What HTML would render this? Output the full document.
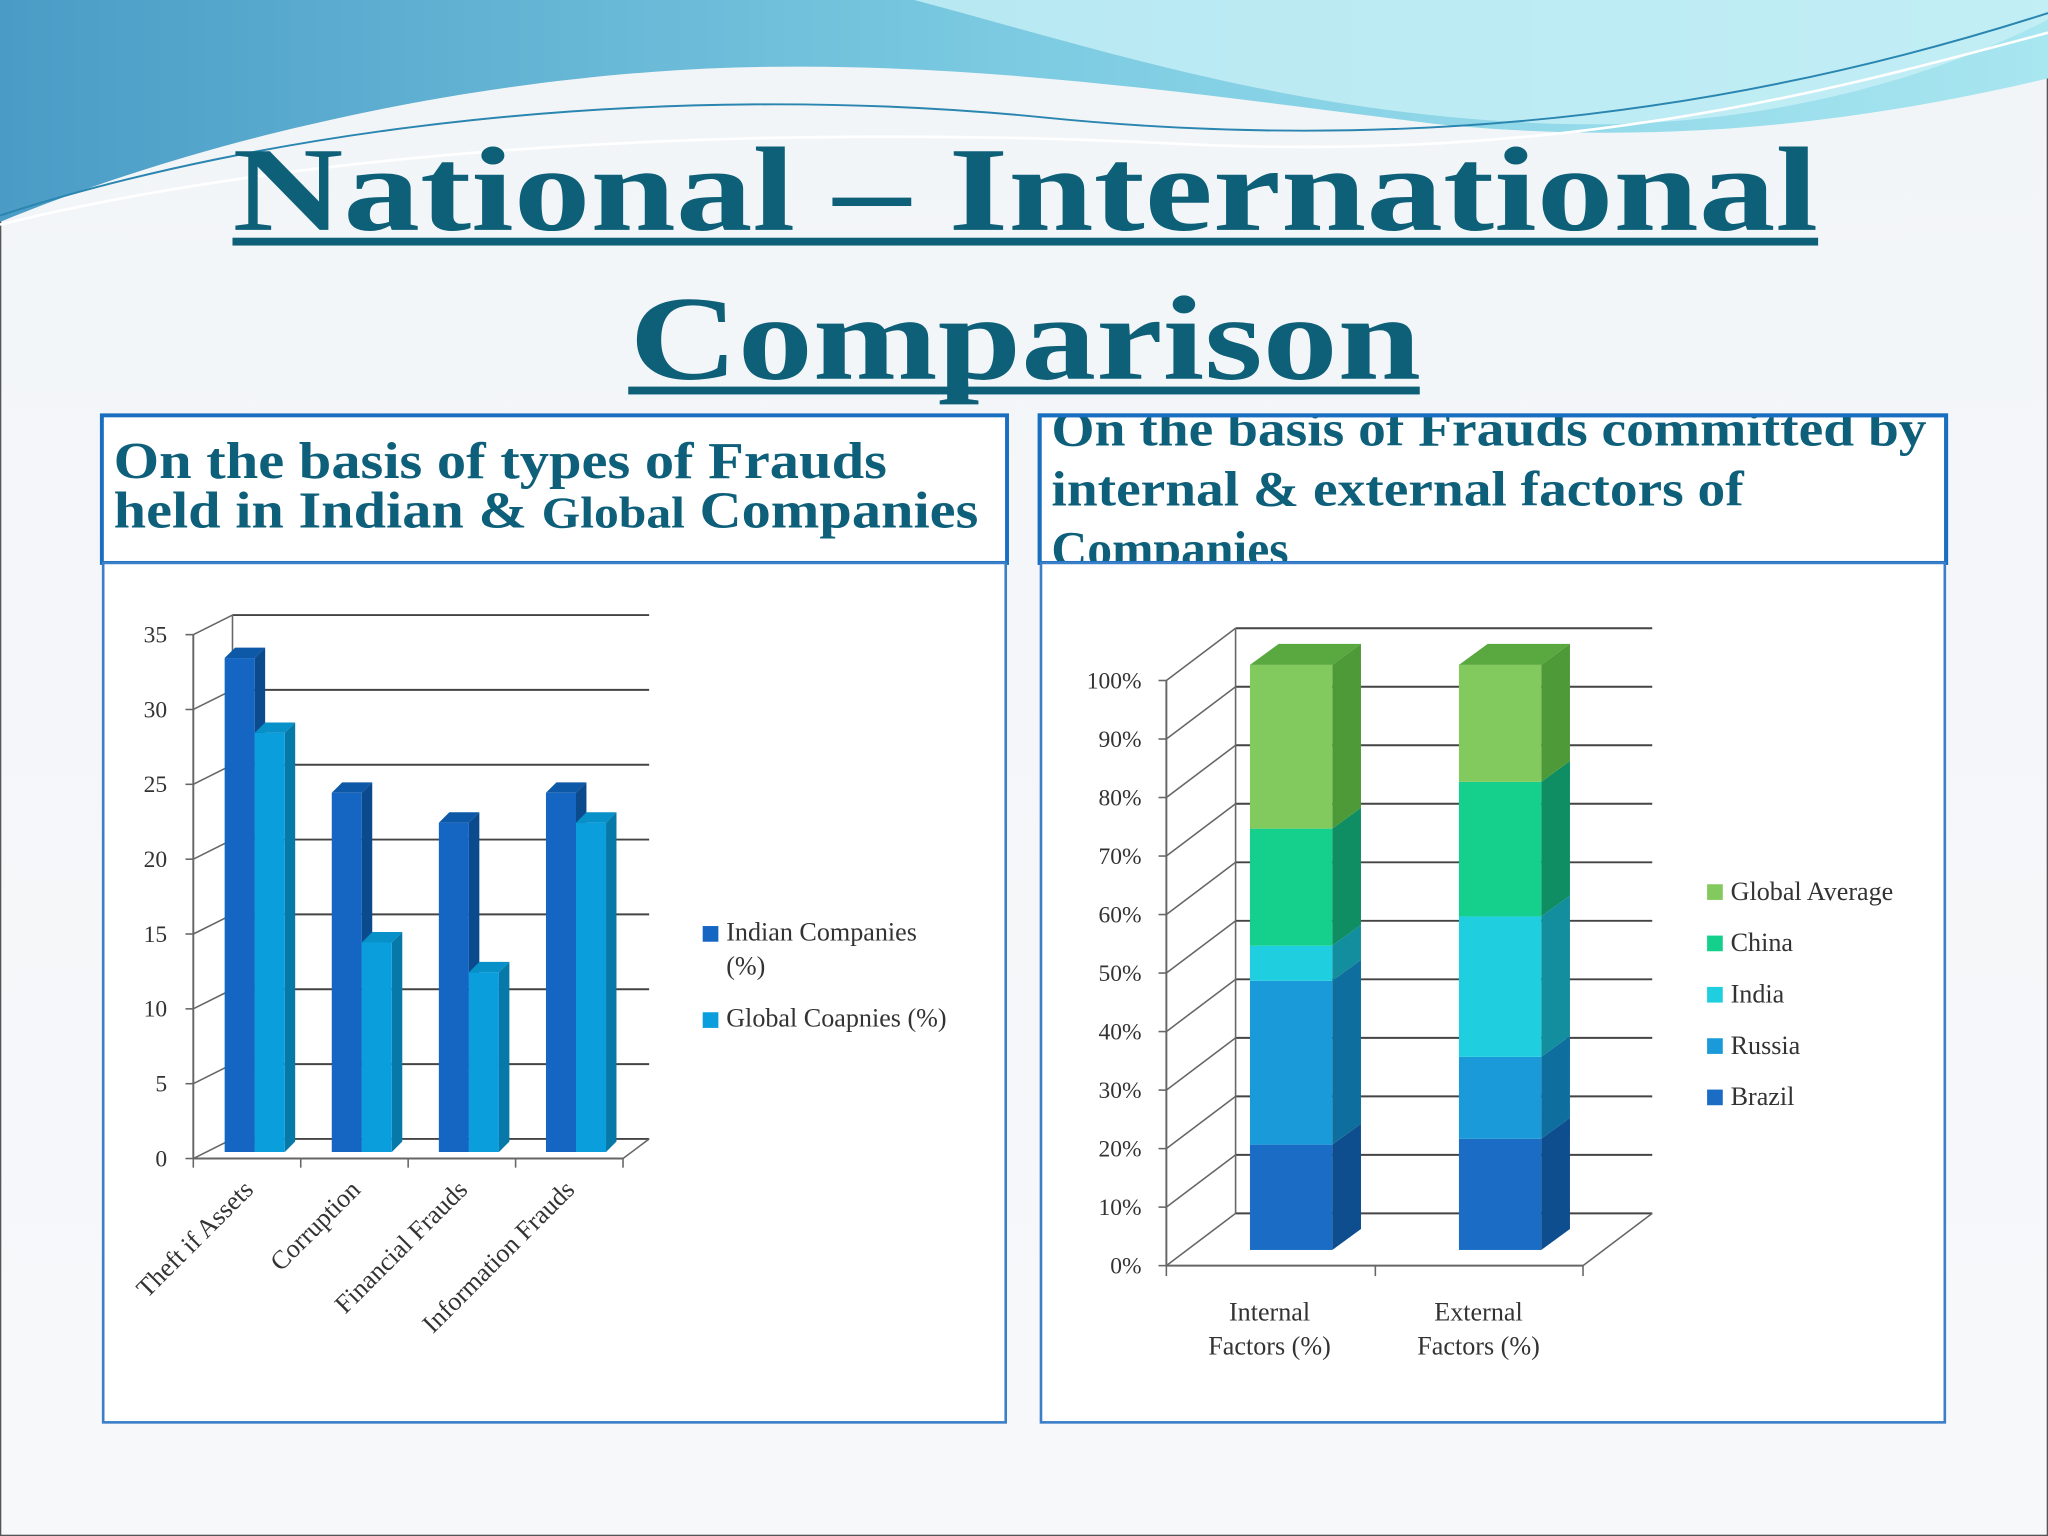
<!DOCTYPE html>
<html><head><meta charset="utf-8"><style>
html,body{margin:0;padding:0;background:#fff}
svg{display:block}
text{font-family:"Liberation Serif",serif}
</style></head><body>
<svg id="s" width="2048" height="1536" viewBox="0 0 1568 1176" xmlns="http://www.w3.org/2000/svg">
<defs>
<linearGradient id="bg" x1="0" y1="0" x2="0" y2="1"><stop offset="0" stop-color="#f2f5f8"/><stop offset="1" stop-color="#f7f8fa"/></linearGradient>
<linearGradient id="wave" x1="0" y1="0" x2="1" y2="0"><stop offset="0" stop-color="#4a9cc6"/><stop offset="0.5" stop-color="#7ccbe2"/><stop offset="1" stop-color="#a8e6f0"/></linearGradient>
</defs>
<rect x="0" y="0" width="1568" height="1176" fill="url(#bg)" stroke="#555" stroke-width="2"/>
<g>
<path d="M0,0 H1568 V60 C1400,100 1250,110 1100,95 C900,70 700,40 500,55 C300,70 120,120 0,170 Z" fill="url(#wave)"/>
<path d="M700,0 C850,40 1000,90 1200,95 C1350,98 1480,60 1568,15 V0 Z" fill="#c8f0f6" opacity="0.8"/>
<path d="M0,165 C200,100 500,60 800,90 C1100,120 1350,80 1568,10" fill="none" stroke="#2a86b0" stroke-width="1.5"/>
<path d="M0,172 C250,110 600,95 900,110 C1200,125 1400,70 1568,25" fill="none" stroke="#fff" stroke-width="2"/>
</g>
<g fill="#0e6078" font-weight="bold">
<text x="785" y="176" text-anchor="middle" font-size="92" textLength="1214" lengthAdjust="spacingAndGlyphs">National – International</text>
<rect x="178" y="182" width="1214" height="6"/>
<text x="785" y="290" text-anchor="middle" font-size="92" textLength="606" lengthAdjust="spacingAndGlyphs">Comparison</text>
<rect x="481" y="296" width="606" height="6"/>
</g>
<g>
<rect x="78" y="318" width="693" height="113" fill="#fff" stroke="#1a6ec0" stroke-width="3"/>
<text x="87" y="366" font-size="40" font-weight="bold" fill="#0e5f7a" textLength="592" lengthAdjust="spacingAndGlyphs">On the basis of types of Frauds</text>
<text x="87" y="404" font-size="40" font-weight="bold" fill="#0e5f7a" textLength="662" lengthAdjust="spacingAndGlyphs">held in Indian &amp; <tspan font-size="34">Global</tspan> Companies</text>
</g>
<g>
<rect x="796" y="318" width="694" height="113" fill="#fff" stroke="#1a6ec0" stroke-width="3"/>
<svg x="796" y="318" width="694" height="113" overflow="hidden">
<text x="9" y="23" font-size="38" font-weight="bold" fill="#0e5f7a" textLength="670" lengthAdjust="spacingAndGlyphs">On the basis of Frauds committed by</text>
<text x="9" y="69" font-size="38" font-weight="bold" fill="#0e5f7a" textLength="530" lengthAdjust="spacingAndGlyphs">internal &amp; external factors of</text>
<text x="9" y="115" font-size="38" font-weight="bold" fill="#0e5f7a">Companies</text>
</svg>
<rect x="796" y="318" width="694" height="113" fill="none" stroke="#1a6ec0" stroke-width="3"/>
</g>
<rect x="79" y="431" width="691" height="658" fill="#fff" stroke="#3a7fc8" stroke-width="2"/>
<rect x="797" y="431" width="692" height="658" fill="#fff" stroke="#3a7fc8" stroke-width="2"/>
<g id="left"></g>
<g id="right"></g>
</svg>
<script>
const catsL=["Theft if Assets","Corruption","Financial Frauds","Information Frauds"];
const indianVals=[33,24,22,24];
const globalVals=[28,14,12,22];
const yTicksL=[0,5,10,15,20,25,30,35];
const seriesLNames=["Indian Companies","Global Coapnies (%)"];

const catsR=[["Internal","Factors (%)"],["External","Factors (%)"]];
const seriesR=["Brazil","Russia","India","China","Global Average"];
const brazilVals=[18,19];
const russiaVals=[28,14];
const indiaVals=[6,24];
const chinaVals=[20,23];
const globalAvgVals=[28,20];
const yTicksR=[0,10,20,30,40,50,60,70,80,90,100];

const NS="http://www.w3.org/2000/svg";
function mk(parent,tag,attrs,txt){const e=document.createElementNS(NS,tag);for(const k in attrs)e.setAttribute(k,attrs[k]);if(txt!=null)e.textContent=txt;parent.appendChild(e);return e;}
function bar3d(g,x,w,yTop,yBase,dx,dy,front,side,top){
  mk(g,"polygon",{points:`${x+w},${yTop} ${x+w+dx},${yTop-dy} ${x+w+dx},${yBase-dy} ${x+w},${yBase}`,fill:side});
  mk(g,"polygon",{points:`${x},${yTop} ${x+dx},${yTop-dy} ${x+w+dx},${yTop-dy} ${x+w},${yTop}`,fill:top});
  mk(g,"rect",{x:x,y:yTop,width:w,height:Math.max(0,yBase-yTop),fill:front});
}
// LEFT CHART
(function(){
const g=document.getElementById("left");
const sc=11.46, fy=v=>887-v*sc, by=v=>872-v*sc, bary=v=>882-v*sc;
yTicksL.forEach(v=>{
  const l=mk(g,"line",{x1:178,y1:by(v),x2:497,y2:by(v),stroke:"#444","stroke-width":1.5});
  
  
  mk(g,"line",{x1:148,y1:fy(v),x2:178,y2:by(v),stroke:"#666","stroke-width":1.2});
  mk(g,"line",{x1:142,y1:fy(v),x2:148,y2:fy(v),stroke:"#666","stroke-width":1.2});
  const t=mk(g,"text",{x:128,y:fy(v)+6,"text-anchor":"end","font-size":18,fill:"#333"},String(v));
  
  
});
mk(g,"line",{x1:178,y1:by(35),x2:178,y2:by(0),stroke:"#666","stroke-width":1.2});
mk(g,"line",{x1:148,y1:fy(35),x2:148,y2:fy(0),stroke:"#666","stroke-width":1.5});
mk(g,"line",{x1:148,y1:887,x2:477,y2:887,stroke:"#666","stroke-width":1.5});
mk(g,"line",{x1:477,y1:887,x2:497,y2:872,stroke:"#666","stroke-width":1.2});
for(let i=0;i<=catsL.length;i++){mk(g,"line",{x1:148+i*82.25,y1:887,x2:148+i*82.25,y2:894,stroke:"#666","stroke-width":1.2});}
catsL.forEach((c,i)=>{
  const x=172+i*82;
  const b1=mk(g,"g",{});
  
  
  bar3d(b1,x,23,bary(indianVals[i]),882,8,8,"#1466c2","#0c4a8e","#0e58a8");
  const b2=mk(g,"g",{});
  
  
  bar3d(b2,x+23,23,bary(globalVals[i]),882,8,8,"#0a9fdc","#0779a8","#0890c8");
  const tx=195+i*82, ty=912;
  const t=mk(g,"text",{x:tx,y:ty,"text-anchor":"end","font-size":20,fill:"#333",transform:`rotate(-45 ${tx} ${ty})`},c);
  
  
});
const l1=mk(g,"rect",{x:538,y:709,width:12,height:12,fill:"#1466c2"});


mk(g,"text",{x:556,y:720,"font-size":20,fill:"#333"},"Indian Companies");
mk(g,"text",{x:556,y:746,"font-size":20,fill:"#333"},"(%)");
const l2=mk(g,"rect",{x:538,y:775,width:12,height:12,fill:"#0a9fdc"});


mk(g,"text",{x:556,y:786,"font-size":20,fill:"#333"},seriesLNames[1]);
})();
// RIGHT CHART
(function(){
const g=document.getElementById("right");
const sc=4.48, fy=v=>969-v*sc, by=v=>929-v*sc, bary=v=>957-v*sc;
yTicksR.forEach(v=>{
  const l=mk(g,"line",{x1:946,y1:by(v),x2:1265,y2:by(v),stroke:"#444","stroke-width":1.5});
  
  
  mk(g,"line",{x1:893,y1:fy(v),x2:946,y2:by(v),stroke:"#666","stroke-width":1.2});
  mk(g,"line",{x1:887,y1:fy(v),x2:893,y2:fy(v),stroke:"#666","stroke-width":1.2});
  const t=mk(g,"text",{x:874,y:fy(v)+6,"text-anchor":"end","font-size":18,fill:"#333"},v+"%");
  
  
});
mk(g,"line",{x1:946,y1:by(100),x2:946,y2:by(0),stroke:"#666","stroke-width":1.2});
mk(g,"line",{x1:893,y1:fy(100),x2:893,y2:fy(0),stroke:"#666","stroke-width":1.5});
mk(g,"line",{x1:893,y1:969,x2:1212,y2:969,stroke:"#666","stroke-width":1.5});
mk(g,"line",{x1:1212,y1:969,x2:1265,y2:929,stroke:"#666","stroke-width":1.2});
[893,1053,1212].forEach(x=>mk(g,"line",{x1:x,y1:969,x2:x,y2:977,stroke:"#666","stroke-width":1.2}));
const vals=[brazilVals,russiaVals,indiaVals,chinaVals,globalAvgVals];
const fronts=["#1a6cc4","#1a9ad8","#1fcfe0","#14d08c","#82c95e"];
const sides=["#0e4d8e","#0e6e9e","#138e9e","#0e8e62","#4f9a38"];
const tops=["#145aa8","#1585bc","#1ab5c4","#11b07a","#5aa840"];
catsR.forEach((c,i)=>{
  const x=957+i*160;
  let cum=0;
  vals.forEach((arr,s)=>{
    const y0=bary(cum), y1=bary(cum+arr[i]);
    const seg=mk(g,"g",{});
    
    
    mk(seg,"polygon",{points:`${x+63},${y1} ${x+85},${y1-16} ${x+85},${y0-16} ${x+63},${y0}`,fill:sides[s]});
    mk(seg,"rect",{x:x,y:y1,width:63,height:y0-y1,fill:fronts[s]});
    cum+=arr[i];
    if(s===vals.length-1){mk(seg,"polygon",{points:`${x},${y1} ${x+22},${y1-16} ${x+85},${y1-16} ${x+63},${y1}`,fill:tops[s]});}
  });
  c.forEach((ln,k)=>{
    const t=mk(g,"text",{x:x+15,y:1011+k*26,"text-anchor":"middle","font-size":20,fill:"#333"},ln);
    
    
  });
});
const order=[4,3,2,1,0];
order.forEach((s,k)=>{
  const y=677+k*39.3;
  const r=mk(g,"rect",{x:1307,y:y,width:12,height:12,fill:fronts[s]});
  
  
  mk(g,"text",{x:1325,y:y+12,"font-size":20,fill:"#333"},seriesR[s]);
});
})();
</script>
</body></html>
